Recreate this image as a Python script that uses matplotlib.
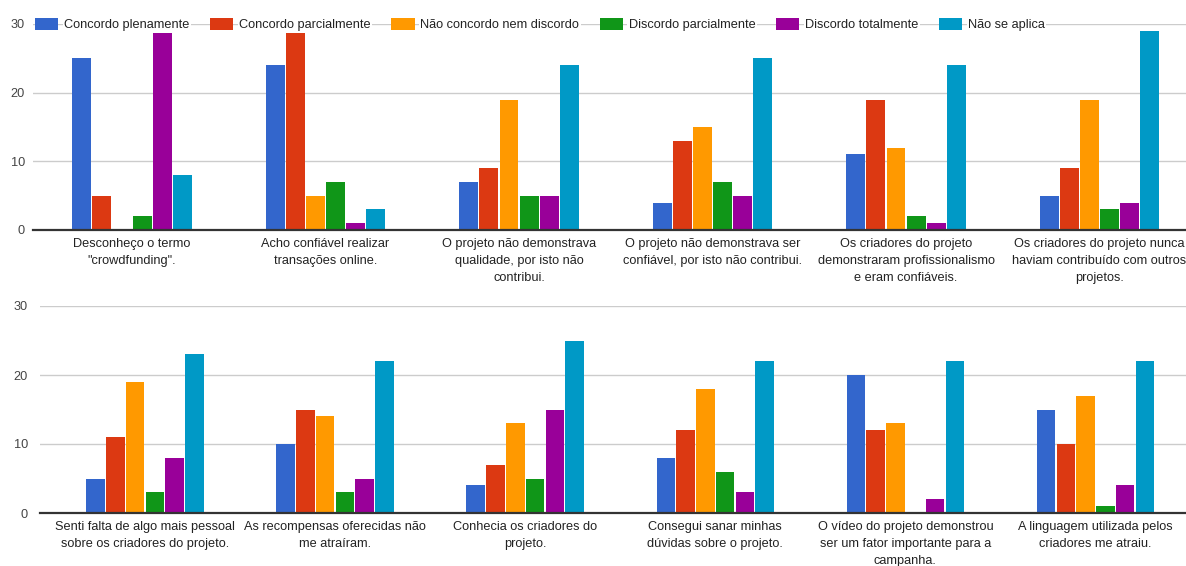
import numpy as np
import matplotlib.pyplot as plt

series = ["Concordo plenamente", "Concordo parcialmente", "Não concordo nem discordo",
          "Discordo parcialmente", "Discordo totalmente", "Não se aplica"]
colors = ["#3366cc", "#dc3912", "#ff9900", "#109618", "#990099", "#0099c6"]

top_labels = ["Desconheço o termo\n\"crowdfunding\".",
              "Acho confiável realizar\ntransações online.",
              "O projeto não demonstrava\nqualidade, por isto não\ncontribui.",
              "O projeto não demonstrava ser\nconfiável, por isto não contribui.",
              "Os criadores do projeto\ndemonstraram profissionalismo\ne eram confiáveis.",
              "Os criadores do projeto nunca\nhaviam contribuído com outros\nprojetos."]
top_values = [
    [25, 24, 7, 4, 11, 5],    # Concordo plenamente
    [5, 29, 9, 13, 19, 9],    # Concordo parcialmente
    [0, 5, 19, 15, 12, 19],   # Não concordo nem discordo
    [2, 7, 5, 7, 2, 3],       # Discordo parcialmente
    [29, 1, 5, 5, 1, 4],      # Discordo totalmente
    [8, 3, 24, 25, 24, 29],   # Não se aplica
]

bottom_labels = ["Senti falta de algo mais pessoal\nsobre os criadores do projeto.",
                 "As recompensas oferecidas não\nme atraíram.",
                 "Conhecia os criadores do\nprojeto.",
                 "Consegui sanar minhas\ndúvidas sobre o projeto.",
                 "O vídeo do projeto demonstrou\nser um fator importante para a\ncampanha.",
                 "A linguagem utilizada pelos\ncriadores me atraiu."]
bottom_values = [
    [5, 10, 4, 8, 20, 15],
    [11, 15, 7, 12, 12, 10],
    [19, 14, 13, 18, 13, 17],
    [3, 3, 5, 6, 0, 1],
    [8, 5, 15, 3, 2, 4],
    [23, 22, 25, 22, 22, 22],
]

plt.rcParams['font.family'] = ['Liberation Sans', 'DejaVu Sans']
fs = 9.2

W, H = 1186, 566
fig = plt.figure(figsize=(W / 100, H / 100), dpi=100)

def px_axes(x0, x1, y_top, y_bot):
    return fig.add_axes([x0 / W, 1 - y_bot / H, (x1 - x0) / W, (y_bot - y_top) / H])

ax_top = px_axes(33, 1186, 24, 230)
ax_bot = px_axes(40, 1186, 306, 513)

n = len(series)
bw = 0.104

def draw(ax, labels, values, xlim, ypad):
    x = np.arange(len(labels))
    for i in range(n):
        ax.bar(x + (i - (n - 1) / 2) * bw, values[i], width=bw * 0.94,
               color=colors[i], edgecolor='none', zorder=3, label=series[i])
    ax.set_xlim(*xlim)
    ax.set_ylim(0, 30)
    ax.set_yticks([0, 10, 20, 30])
    ax.set_xticks(x)
    ax.set_xticklabels(labels, linespacing=1.55)
    ax.tick_params(axis='both', length=0, labelsize=fs)
    ax.tick_params(axis='y', colors='#444444', pad=ypad)
    ax.tick_params(axis='x', colors='#222222', pad=6)
    ax.grid(axis='y', color='#cccccc', linewidth=1, zorder=0)
    ax.set_axisbelow(True)
    for s in ['top', 'right', 'left']:
        ax.spines[s].set_visible(False)
    ax.spines['bottom'].set_color('#333333')
    ax.spines['bottom'].set_linewidth(1.6)
    ax.spines['bottom'].set_zorder(4)

draw(ax_top, top_labels, top_values, (-0.512, 5.447), 5.8)
draw(ax_bot, bottom_labels, bottom_values, (-0.552, 5.476), 8.6)

handles, labs = ax_top.get_legend_handles_labels()
leg = fig.legend(handles, labs, loc='center left', bbox_to_anchor=(35 / W, 1 - 24.5 / H),
                 ncol=6, frameon=False, fontsize=fs, handlelength=1.83, handleheight=1.03,
                 handletextpad=0.45, columnspacing=1.6, borderpad=0, borderaxespad=0)
for t in leg.get_texts():
    t.set_color('#222222')
    t.set_bbox(dict(facecolor='white', edgecolor='none', pad=1))

fig.savefig('out.png', dpi=100, facecolor='white')
